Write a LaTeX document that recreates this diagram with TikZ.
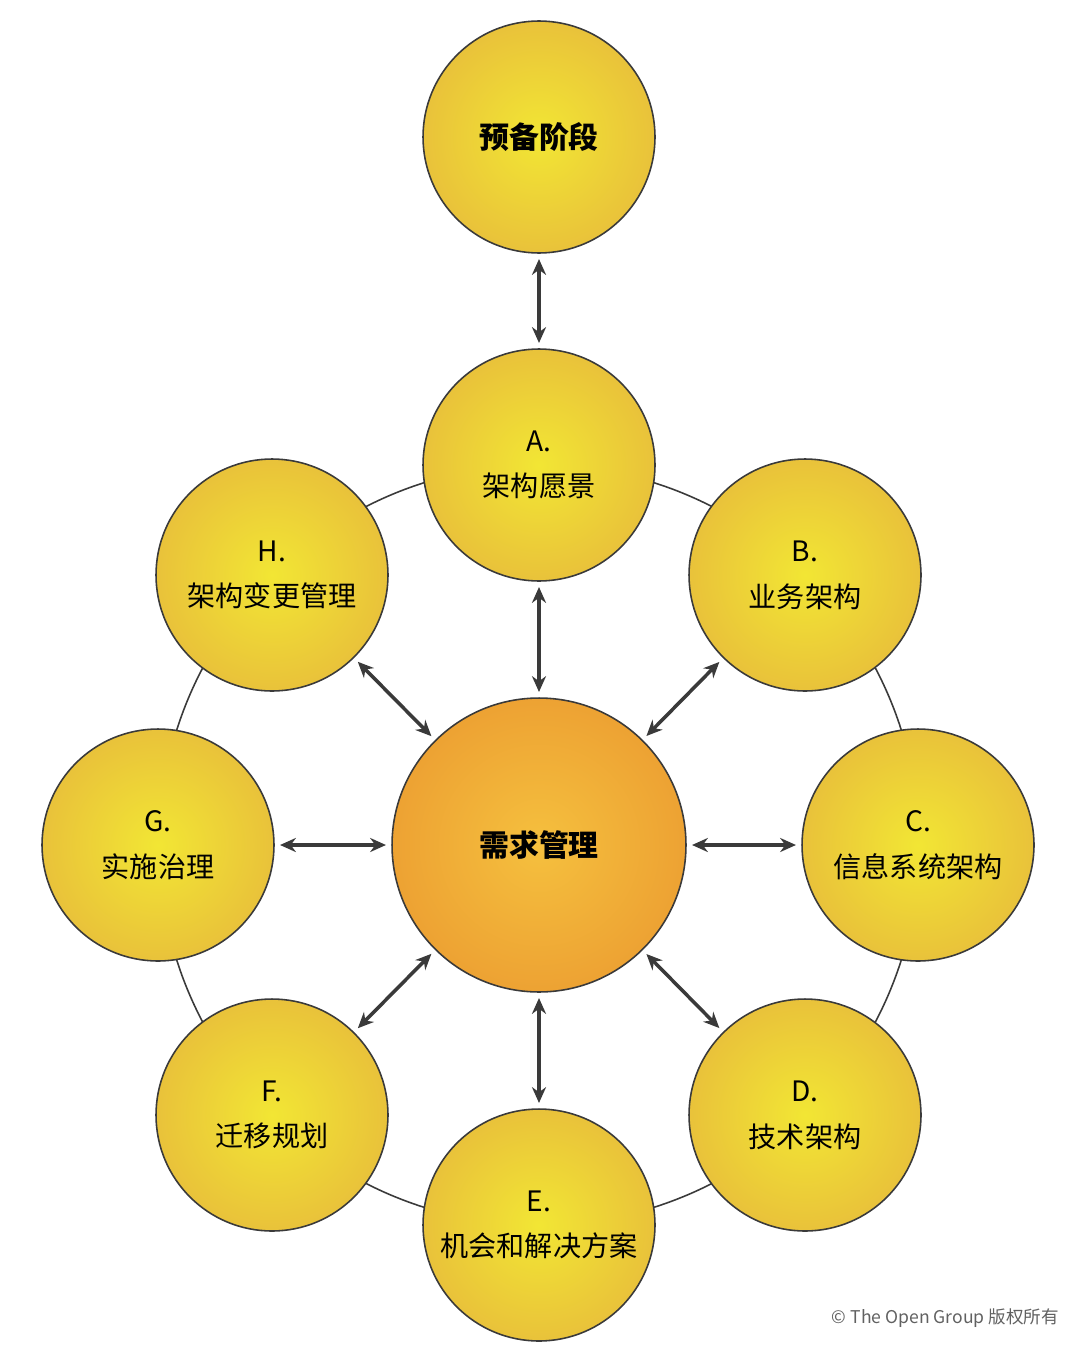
\documentclass[tikz,border=0pt]{standalone}
\usepackage{fontspec}
\setmainfont{Noto Sans CJK SC}
\usetikzlibrary{arrows.meta}
\definecolor{ringgray}{HTML}{3A3A3A}
\definecolor{phasein}{HTML}{F2E634}
\definecolor{phaseout}{HTML}{E9C23A}
\definecolor{hubin}{HTML}{F5C03E}
\definecolor{hubout}{HTML}{EDA233}
\tikzset{
  phase/.style={circle,draw=ringgray,line width=0.9pt,minimum size=4.64cm,inner sep=0pt,
    shading=radial,inner color=phasein,outer color=phaseout,align=center,
    font=\fontsize{16}{26}\selectfont},
  hub/.style={phase,minimum size=5.88cm,inner color=hubin,outer color=hubout,font=\fontsize{17}{26}\selectfont\bfseries},
  link/.style={{Stealth[length=9pt,width=8pt]}-{Stealth[length=9pt,width=8pt]},line width=2pt,color=ringgray,shorten <=3pt,shorten >=3pt}
}
\begin{document}
\begin{tikzpicture}[x=0.02cm,y=-0.02cm]
		\useasboundingbox (0,0) rectangle (1080,1355);
		% ring behind the phases
		\draw [ringgray,line width=0.9pt] (539,845) circle [radius=380];
		% Place nodes
		\node [phase,font=\fontsize{17}{26}\selectfont\bfseries] (prelim) at (539,137) {预备阶段};
		\node [phase] (A) at (539,465) {A.\\架构愿景};
		\node [phase] (B) at (805,575) {B.\\业务架构};
		\node [phase] (C) at (918,845) {C.\\信息系统架构};
		\node [phase] (D) at (805,1115) {D.\\技术架构};
		\node [phase] (E) at (539,1225) {E.\\机会和解决方案};
		\node [phase] (F) at (272,1115) {F.\\迁移规划};
		\node [phase] (G) at (158,845) {G.\\实施治理};
		\node [phase] (H) at (272,575) {H.\\架构变更管理};
		\node [hub] (req) at (539,845) {需求管理};
		% connectors
		\draw [link] (prelim) -- (A);
		\foreach \p in {A,B,C,D,E,F,G,H}
			\draw [link] (\p) -- (req);
		\node [anchor=east,font=\fontsize{10}{12}\selectfont,text=ringgray!80] (copy) at (1065,1318) {© The Open Group 版权所有};
	\end{tikzpicture}
\end{document}
